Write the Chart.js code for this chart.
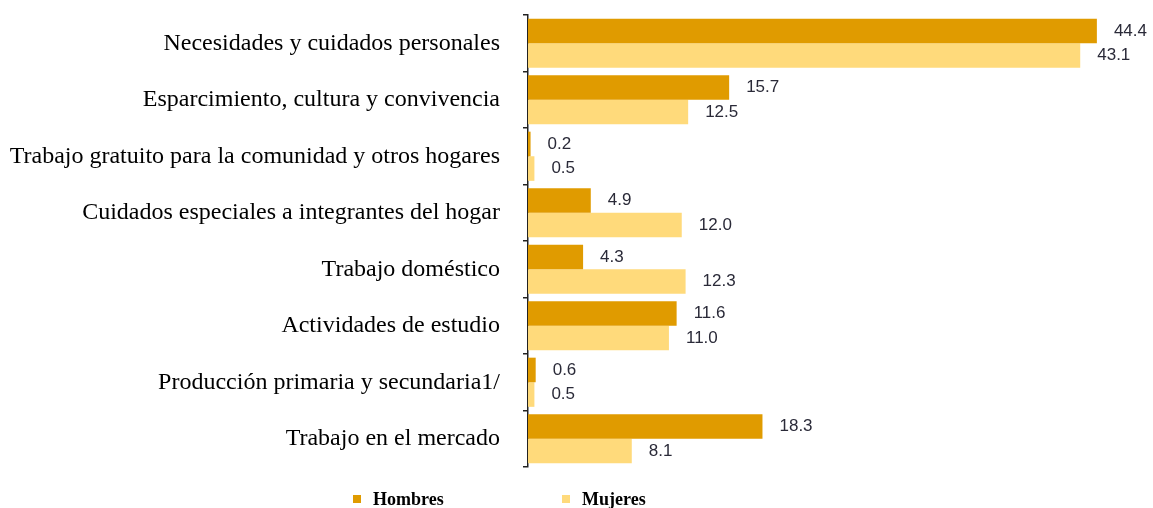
<!DOCTYPE html>
<html>
<head>
<meta charset="utf-8">
<script src="https://cdn.jsdelivr.net/npm/chart.js@4.4.1/dist/chart.umd.min.js"></script>
<style>
  html, body { margin: 0; padding: 0; background: #fff; }
  #wrap { position: relative; width: 1153px; height: 508px; }
</style>
</head>
<body>
<div id="wrap"><canvas id="chart"></canvas></div>
<script>
const categories = [
    'Necesidades y cuidados personales',
    'Esparcimiento, cultura y convivencia',
    'Trabajo gratuito para la comunidad y otros hogares',
    'Cuidados especiales a integrantes del hogar',
    'Trabajo doméstico',
    'Actividades de estudio',
    'Producción primaria y secundaria1/',
    'Trabajo en el mercado',
];
const hombres = [44.4, 15.7, 0.2, 4.9, 4.3, 11.6, 0.6, 18.3];
const mujeres = [43.1, 12.5, 0.5, 12.0, 12.3, 11.0, 0.5, 8.1];

const colorHombres = '#E09B00';
const colorMujeres = '#FFDA7B';

// value labels at the end of each bar
const barValues = {
    id: 'barValues',
    afterDatasetsDraw(chart) {
        const ctx = chart.ctx;
        ctx.save();
        ctx.font = '17px "Liberation Sans", Arial, sans-serif';
        ctx.fillStyle = '#2a2a38';
        ctx.textBaseline = 'middle';
        ctx.textAlign = 'left';
        chart.data.datasets.forEach((ds, i) => {
            chart.getDatasetMeta(i).data.forEach((bar, j) => {
                ctx.fillText(ds.data[j].toFixed(1), bar.x + 17, bar.y);
            });
        });
        ctx.restore();
    },
};

// legend drawn under the plot, left of centre
const bottomLegend = {
    id: 'bottomLegend',
    afterDraw(chart) {
        const ctx = chart.ctx;
        const xs = [353, 562];
        const y = 499;
        ctx.save();
        ctx.font = 'bold 18px "Liberation Serif", "Times New Roman", serif';
        ctx.textBaseline = 'middle';
        chart.data.datasets.forEach((ds, i) => {
            ctx.fillStyle = ds.backgroundColor;
            ctx.fillRect(xs[i], y - 4, 8, 8);
            ctx.fillStyle = '#000';
            ctx.fillText(ds.label, xs[i] + 20, y + 1);
        });
        ctx.restore();
    },
};

new Chart(document.getElementById('chart'), {
    type: 'bar',
    data: {
        labels: categories,
        datasets: [
            {
                label: 'Hombres',
                data: hombres,
                backgroundColor: colorHombres,
                categoryPercentage: 0.87,
                barPercentage: 1.0,
            },
            {
                label: 'Mujeres',
                data: mujeres,
                backgroundColor: colorMujeres,
                categoryPercentage: 0.87,
                barPercentage: 1.0,
            },
        ],
    },
    options: {
        indexAxis: 'y',
        responsive: true,
        maintainAspectRatio: false,
        animation: false,
        layout: {
            padding: { top: 15, bottom: 41, right: 10, left: 0 },
        },
        plugins: {
            legend: { display: false },
            tooltip: { enabled: false },
        },
        scales: {
            x: {
                display: false,
                min: 0,
                max: 48,
            },
            y: {
                afterFit(scale) {
                    scale.width = 528;
                    scale.paddingTop = 0;
                    scale.paddingBottom = 0;
                },
                grid: {
                    drawOnChartArea: false,
                    offset: true,
                    color: '#222',
                    lineWidth: 1.5,
                    tickLength: 5,
                },
                border: {
                    color: '#222',
                    width: 1.5,
                },
                ticks: {
                    color: '#000',
                    padding: 23,
                    font: { family: '"Liberation Serif", "Times New Roman", serif', size: 24 },
                },
            },
        },
    },
    plugins: [barValues, bottomLegend],
});
</script>
</body>
</html>
